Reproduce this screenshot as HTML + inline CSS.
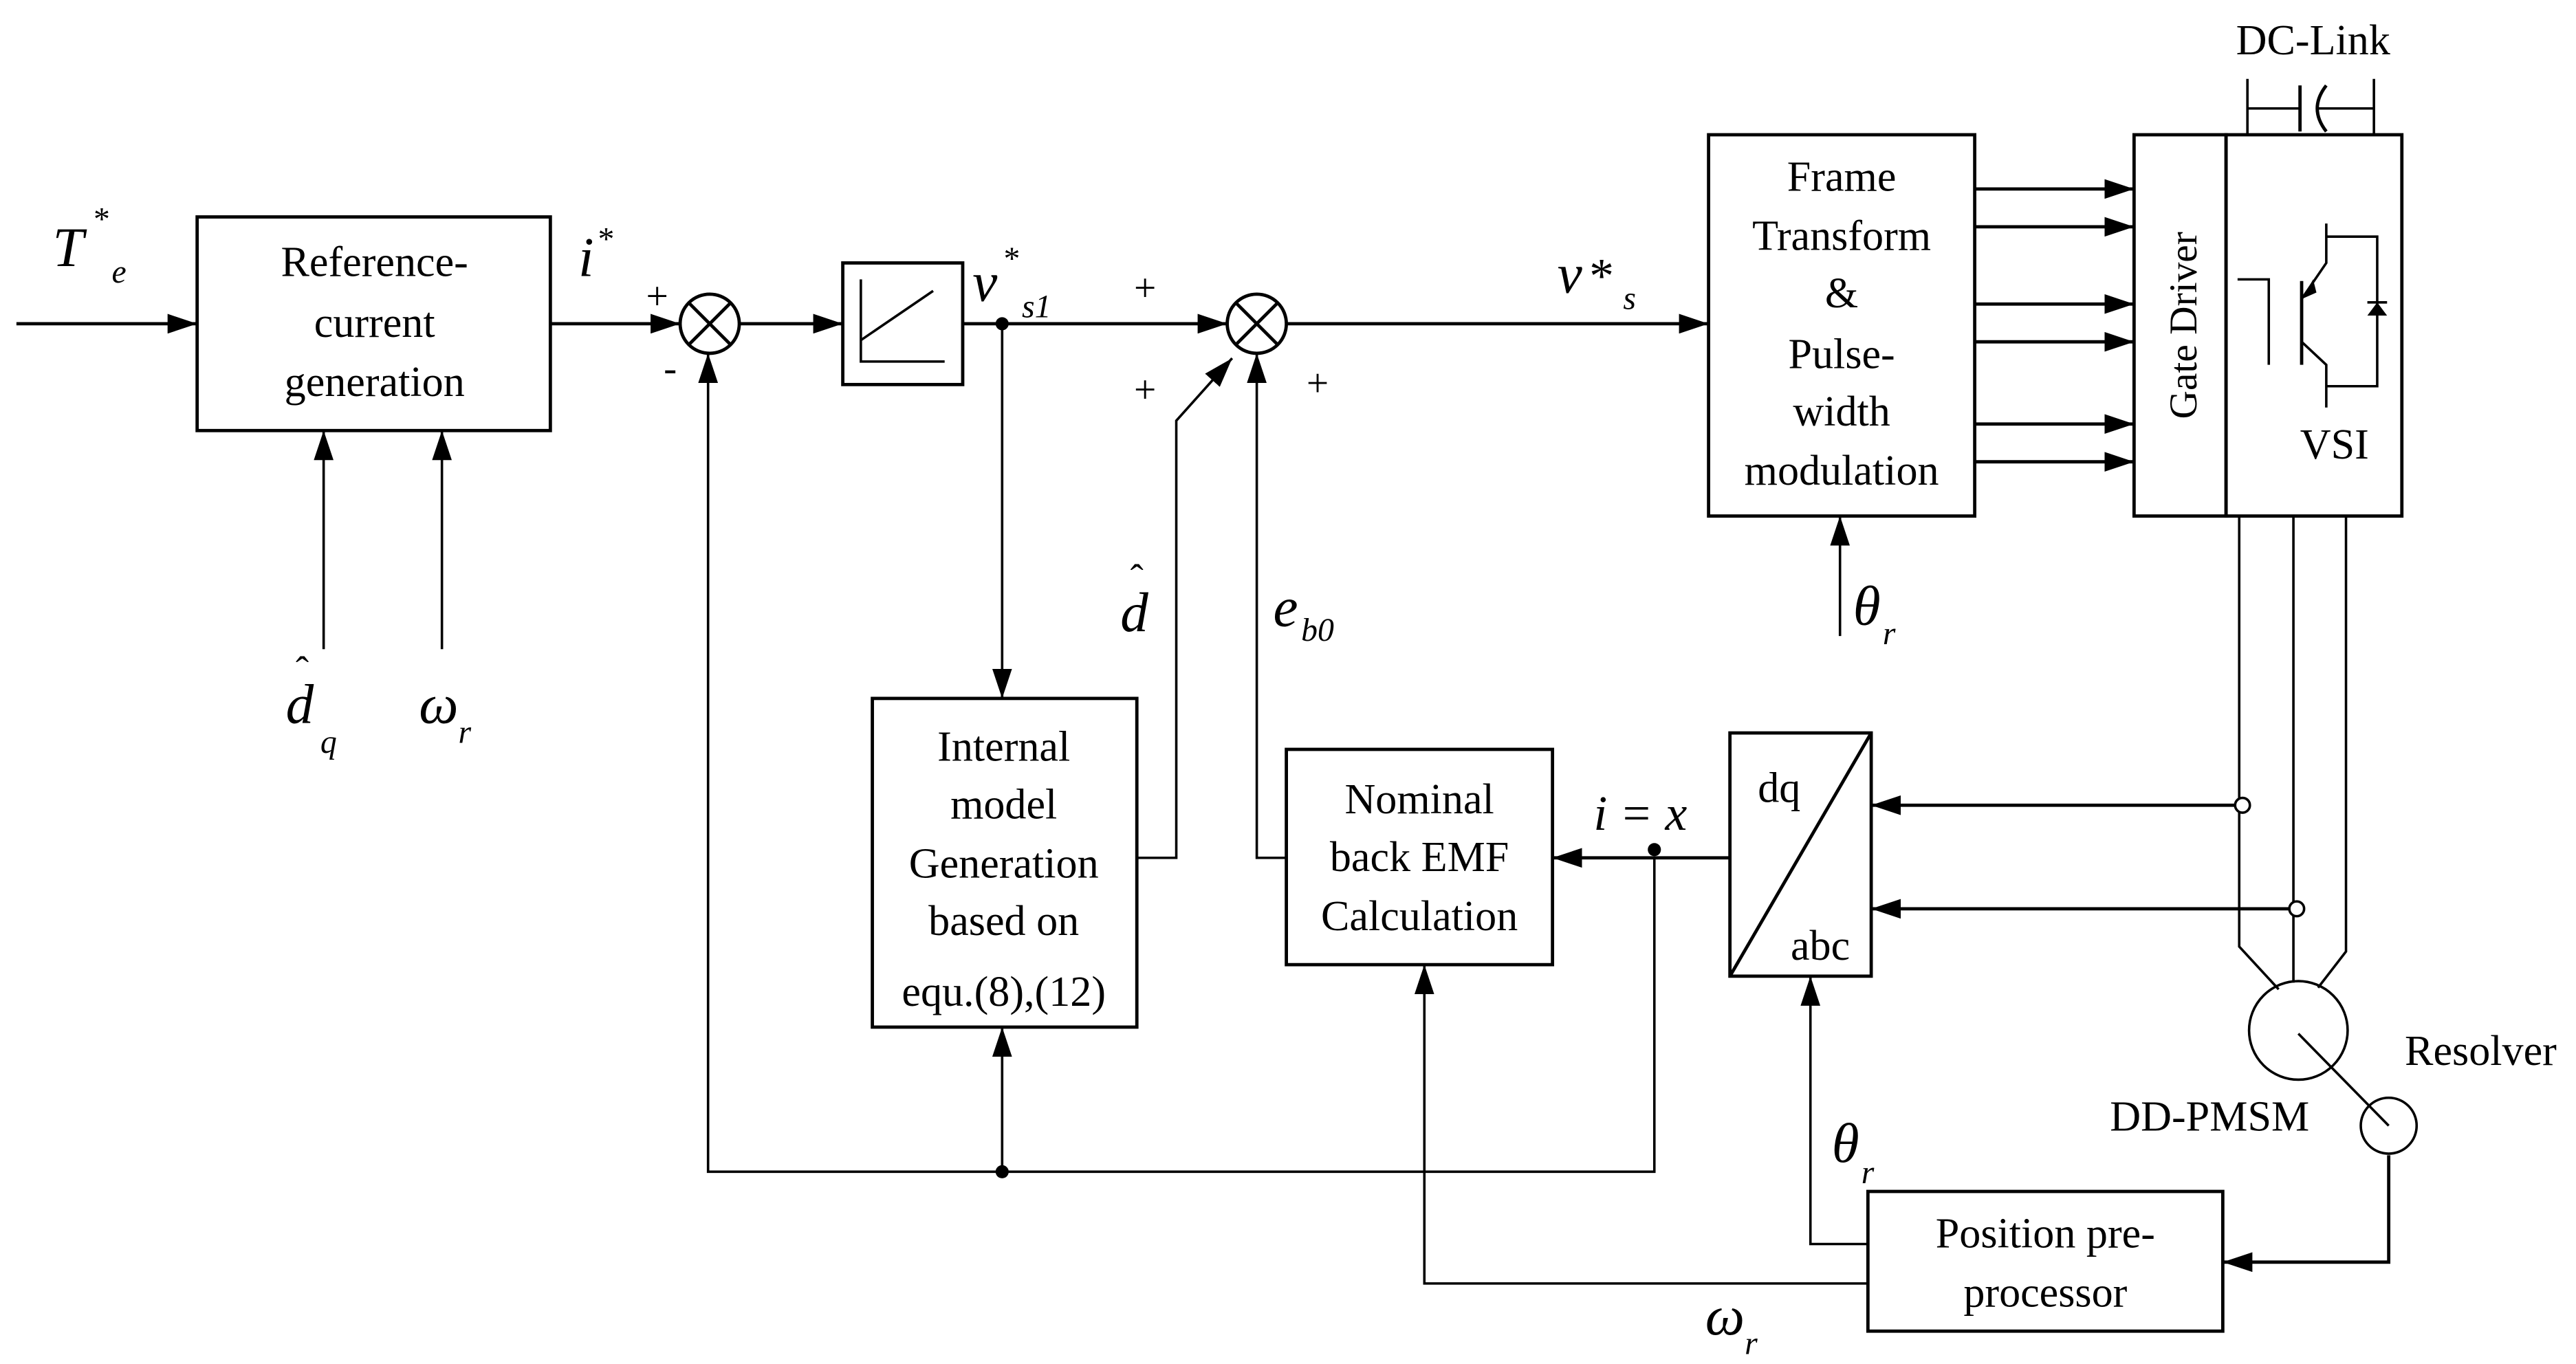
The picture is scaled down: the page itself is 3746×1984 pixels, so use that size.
<!DOCTYPE html>
<html><head><meta charset="utf-8"><style>
html,body{margin:0;padding:0;background:#fff;}
svg{display:block;font-family:"Liberation Serif","DejaVu Serif",serif;}
svg text{font-family:"Liberation Serif","DejaVu Serif",serif;fill:#000;}
.t{font-size:26px;text-anchor:middle;}
.i{font-style:italic;font-size:34px;}
.s{font-style:italic;font-size:20px;}
</style></head><body>
<svg width="3746" height="1984" viewBox="0 0 1568 830" preserveAspectRatio="none" xmlns="http://www.w3.org/2000/svg" font-family="Liberation Serif, serif">
<defs>
<marker id="a" markerWidth="18" markerHeight="12" refX="18" refY="6" orient="auto" markerUnits="userSpaceOnUse">
<path d="M0,0 L18,6 L0,12 Z" fill="#000"/></marker>
</defs>
<g fill="none" stroke="#000" stroke-width="2">
<rect x="120" y="132" width="215" height="130"/>
<rect x="513" y="160" width="73" height="74"/>
<rect x="1040" y="82" width="162" height="232"/>
<rect x="1299" y="82" width="56" height="232"/>
<rect x="1355" y="82" width="107" height="232"/>
<rect x="531" y="425" width="161" height="200"/>
<rect x="783" y="456" width="162" height="131"/>
<rect x="1053" y="446" width="86" height="148"/>
<rect x="1137" y="725" width="216" height="85"/>
<line x1="1053" y1="594" x2="1139" y2="446"/>
<circle cx="432" cy="197" r="18"/>
<line x1="419" y1="184" x2="445" y2="210"/><line x1="445" y1="184" x2="419" y2="210"/>
<circle cx="765" cy="197" r="18"/>
<line x1="752" y1="184" x2="778" y2="210"/><line x1="778" y1="184" x2="752" y2="210"/>
<polyline points="524,170 524,220 575,220" stroke-width="1.5"/>
<line x1="524" y1="207" x2="568" y2="177" stroke-width="1.5"/>
<line x1="10" y1="197" x2="120" y2="197" marker-end="url(#a)"/>
<line x1="335" y1="197" x2="414" y2="197" marker-end="url(#a)"/>
<line x1="450" y1="197" x2="513" y2="197" marker-end="url(#a)"/>
<line x1="586" y1="197" x2="747" y2="197" marker-end="url(#a)"/>
<line x1="783" y1="197" x2="1040" y2="197" marker-end="url(#a)"/>
<line x1="1202" y1="115" x2="1299" y2="115" marker-end="url(#a)"/>
<line x1="1202" y1="138" x2="1299" y2="138" marker-end="url(#a)"/>
<line x1="1202" y1="185" x2="1299" y2="185" marker-end="url(#a)"/>
<line x1="1202" y1="208" x2="1299" y2="208" marker-end="url(#a)"/>
<line x1="1202" y1="258" x2="1299" y2="258" marker-end="url(#a)"/>
<line x1="1202" y1="281" x2="1299" y2="281" marker-end="url(#a)"/>
<line x1="197" y1="395" x2="197" y2="262" stroke-width="1.5" marker-end="url(#a)"/>
<line x1="269" y1="395" x2="269" y2="262" stroke-width="1.5" marker-end="url(#a)"/>
<line x1="1120" y1="387" x2="1120" y2="314" stroke-width="1.5" marker-end="url(#a)"/>
<line x1="610" y1="197" x2="610" y2="425" stroke-width="1.5" marker-end="url(#a)"/>
<polyline points="692,522 716,522 716,256 750,218" stroke-width="1.5" marker-end="url(#a)"/>
<polyline points="783,522 765,522 765,215" stroke-width="1.5" marker-end="url(#a)"/>
<line x1="1053" y1="522" x2="945" y2="522" marker-end="url(#a)"/>
<polyline points="1007,522 1007,713 431,713 431,215" stroke-width="1.5" marker-end="url(#a)"/>
<line x1="610" y1="713" x2="610" y2="625" stroke-width="1.5" marker-end="url(#a)"/>
<line x1="1363" y1="490" x2="1139" y2="490" marker-end="url(#a)"/>
<line x1="1396" y1="553" x2="1139" y2="553" marker-end="url(#a)"/>
<polyline points="1137,757 1102,757 1102,594" stroke-width="1.5" marker-end="url(#a)"/>
<polyline points="1137,781 867,781 867,587" stroke-width="1.5" marker-end="url(#a)"/>
<polyline points="1454,703 1454,768 1353,768" marker-end="url(#a)"/>
<polyline points="1363,314 1363,576 1387,602" stroke-width="1.5"/>
<line x1="1396" y1="314" x2="1396" y2="598" stroke-width="1.5"/>
<polyline points="1428,314 1428,579 1411,601" stroke-width="1.5"/>
<circle cx="1399" cy="627" r="30" stroke-width="1.5"/>
<circle cx="1454" cy="685" r="17" stroke-width="1.5"/>
<line x1="1399" y1="629" x2="1454" y2="685" stroke-width="1.5"/>
<polyline points="1368,82 1368,48" stroke-width="1.5"/>
<polyline points="1445,82 1445,48" stroke-width="1.5"/>
<line x1="1368" y1="66" x2="1400" y2="66" stroke-width="1.5"/>
<line x1="1400" y1="52" x2="1400" y2="80" stroke-width="2"/>
<path d="M1416,52 Q1405,66 1416,80" stroke-width="2"/>
<line x1="1410" y1="66" x2="1445" y2="66" stroke-width="1.5"/>
<polyline points="1362,170 1381,170 1381,222" stroke-width="1.5"/>
<line x1="1401" y1="171" x2="1401" y2="222" stroke-width="2"/>
<polyline points="1416,136 1416,160 1401,182" stroke-width="1.5"/>
<polyline points="1401,208 1416,222 1416,248" stroke-width="1.5"/>
<polyline points="1416,144 1447,144 1447,235 1416,235" stroke-width="1.5"/>
<line x1="1441" y1="184" x2="1453" y2="184" stroke-width="1.5"/>
</g>
<path d="M1441,192 L1453,192 L1447,184 Z" fill="#000"/>
<path d="M1401,182 L1408,170 L1410,178 Z" fill="#000"/>
<circle cx="610" cy="197" r="4" fill="#000"/>
<circle cx="1007" cy="517" r="4" fill="#000"/>
<circle cx="610" cy="713" r="4" fill="#000"/>
<circle cx="1365" cy="490" r="4.5" fill="#fff" stroke="#000" stroke-width="1.5"/>
<circle cx="1398" cy="553" r="4.5" fill="#fff" stroke="#000" stroke-width="1.5"/>
<g font-family="Liberation Serif, DejaVu Serif, serif">
<text class="t" x="228" y="168">Reference-</text>
<text class="t" x="228" y="205">current</text>
<text class="t" x="228" y="241">generation</text>
<text class="t" x="1121" y="116">Frame</text>
<text class="t" x="1121" y="152">Transform</text>
<text class="t" x="1121" y="187">&amp;</text>
<text class="t" x="1121" y="224">Pulse-</text>
<text class="t" x="1121" y="259">width</text>
<text class="t" x="1121" y="295">modulation</text>
<text class="t" x="611" y="463">Internal</text>
<text class="t" x="611" y="498">model</text>
<text class="t" x="611" y="534">Generation</text>
<text class="t" x="611" y="569">based on</text>
<text class="t" x="611" y="612">equ.(8),(12)</text>
<text class="t" x="864" y="495">Nominal</text>
<text class="t" x="864" y="530">back EMF</text>
<text class="t" x="864" y="566">Calculation</text>
<text class="t" x="1245" y="759">Position pre-</text>
<text class="t" x="1245" y="795">processor</text>
<text class="t" x="1083" y="488">dq</text>
<text class="t" x="1108" y="584">abc</text>
<text class="t" x="1421" y="279">VSI</text>
<text class="t" x="1408" y="33">DC-Link</text>
<text class="t" x="1510" y="648">Resolver</text>
<text class="t" x="1345" y="688">DD-PMSM</text>
<text class="t" transform="translate(1337,198) rotate(-90)" style="font-size:24px">Gate Driver</text>
<text class="t" x="400" y="188" style="font-size:24px">+</text>
<text class="t" x="408" y="232" style="font-size:24px">-</text>
<text class="t" x="697" y="183" style="font-size:24px">+</text>
<text class="t" x="697" y="245" style="font-size:24px">+</text>
<text class="t" x="802" y="241" style="font-size:24px">+</text>
<text class="i" x="32" y="162">T</text><text class="s" x="56" y="140">*</text><text class="s" x="68" y="172">e</text>
<text class="i" x="352" y="168">i</text><text class="s" x="363" y="152">*</text>
<text class="i" x="592" y="183">v</text><text class="s" x="610" y="164">*</text><text class="s" x="622" y="193">s1</text>
<text class="i" x="948" y="178">v</text><text class="i" x="966" y="178" style="font-size:30px">*</text><text class="s" x="988" y="188">s</text>
<text class="i" x="682" y="384">d</text><text x="688" y="360" style="font-size:24px">ˆ</text>
<text class="i" x="775" y="381">e</text><text class="s" x="792" y="390">b0</text>
<text class="i" x="174" y="440">d</text><text x="180" y="416" style="font-size:24px">ˆ</text><text class="s" x="195" y="458">q</text>
<text class="i" x="255" y="440">ω</text><text class="s" x="279" y="452">r</text>
<text class="i" x="1128" y="380">θ</text><text class="s" x="1146" y="392">r</text>
<text class="i" x="1115" y="707">θ</text><text class="s" x="1133" y="720">r</text>
<text class="i" x="1038" y="812">ω</text><text class="s" x="1062" y="824">r</text>
<text class="i" x="970" y="505" style="font-size:30px">i = x</text>
</g>
</svg>
</body></html>
